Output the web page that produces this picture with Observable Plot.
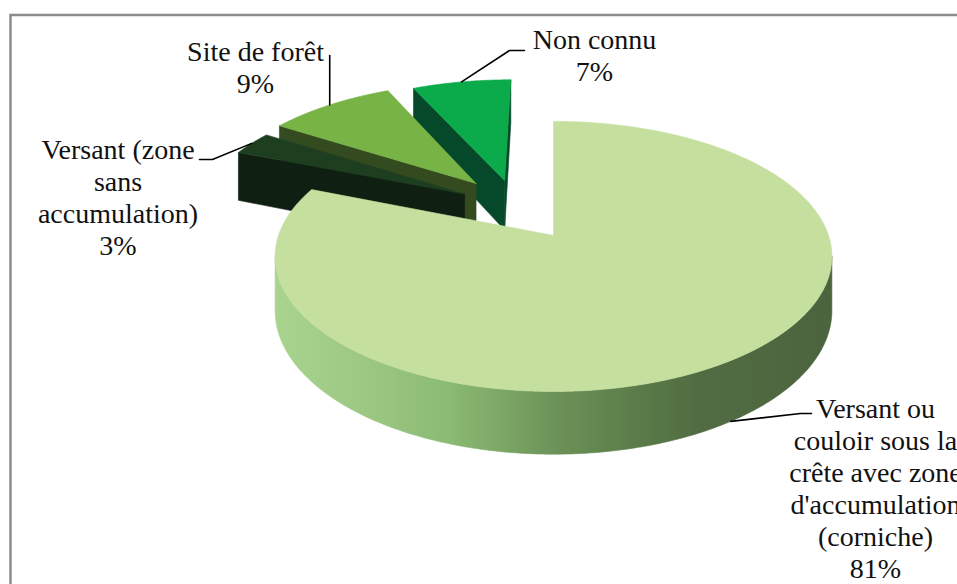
<!DOCTYPE html>
<html><head><meta charset="utf-8">
<script src="https://cdn.jsdelivr.net/npm/d3@7"></script>
<script src="https://cdn.jsdelivr.net/npm/@observablehq/plot@0.6"></script>
<style>
html,body{margin:0;padding:0;background:#fff;overflow:hidden}
#chart svg text, #chart svg tspan{font-family:"Liberation Serif","Times New Roman",serif !important;}
</style>
</head><body><div id="chart"></div>
<script>
// ---- data ----
const categories = [
  "Versant ou couloir sous la crête avec zone d'accumulation (corniche)",
  "Versant (zone sans accumulation)",
  "Site de forêt",
  "Non connu"
];
const values = [81, 3, 9, 7];
const labelLines = [
  ["Versant ou", "couloir sous la", "crête avec zone", "d'accumulation", "(corniche)"],
  ["Versant (zone", "sans", "accumulation)"],
  ["Site de forêt"],
  ["Non connu"]
];

// ---- style / layout ----
const W = 957, H = 584;
const topColors  = ["#C5DF9F", "#1E3F1F", "#77B445", "#0BAA4B"];
const sideColors = ["url(#mainSide)", "#0F2013", "#344A1F", "#06492A"];
const explode = [[0, 0], [-0.34, -0.33], [-0.30, -0.42], [-0.19, -0.446]]; // in radius units (right, front)
const P = {cx: 553, cy: 235, rx: 275, ry: 131.8, k: 0.155, depth: 53};
const leaderLayout = [
  {z: 1, via: [[800, 413], [811, 413]], label: [875, 577]},
  {z: 0, via: [[212, 159], [199, 159]], label: [117.5, 254.5]},
  {z: 0, via: "up55", label: [255, 92]},
  {z: 0, via: [[509, 50], [524, 50]], label: [594, 80]}
];
const FONT = "Liberation Serif";
const FS = 28, LH = 32;

// ---- geometry (3D-like pie, perspective ellipse) ----
function proj(u, v, z) {
  const s = 1 / (1 - P.k * v);
  return [P.cx + P.rx * u * s, P.cy + (P.ry * v + P.depth * z) * s];
}
const total = d3.sum(values);
let acc = 0;
const slices = values.map((val, i) => {
  const a0 = acc / total * 2 * Math.PI; acc += val;
  const a1 = acc / total * 2 * Math.PI;
  return {i, a0, a1, ou: explode[i][0], ov: explode[i][1]};
});
const rim = (sl, a, z) => proj(sl.ou + Math.sin(a), sl.ov - Math.cos(a), z);
const apex = (sl, z) => proj(sl.ou, sl.ov, z);
function area(pts) {
  let s = 0;
  for (let i = 0; i < pts.length; i++) {
    const [x1, y1] = pts[i], [x2, y2] = pts[(i + 1) % pts.length];
    s += x1 * y2 - x2 * y1;
  }
  return s / 2;
}

const faces = [];
const order = [...slices].sort((a, b) => a.ov - b.ov);
for (const sl of order) {
  const n = Math.max(2, Math.ceil((sl.a1 - sl.a0) / (Math.PI / 360)));
  const angles = d3.range(n + 1).map(j => sl.a0 + (sl.a1 - sl.a0) * j / n);
  const flat = sideColors[sl.i] === "url(#mainSide)" ? "#4F6A3F" : sideColors[sl.i];
  // radial faces
  const sf = [apex(sl, 0), rim(sl, sl.a0, 0), rim(sl, sl.a0, 1), apex(sl, 1)];
  if (area(sf) < -1) faces.push({pts: sf, fill: flat});
  const ef = [apex(sl, 0), rim(sl, sl.a1, 0), rim(sl, sl.a1, 1), apex(sl, 1)];
  if (area(ef) > 1) faces.push({pts: ef, fill: flat});
  // curved outer side: visible runs
  let run = [];
  const flush = () => {
    if (run.length > 1) {
      const top = run.map(a => rim(sl, a, 0));
      const bot = run.slice().reverse().map(a => rim(sl, a, 1));
      faces.push({pts: top.concat(bot), fill: sideColors[sl.i]});
    }
    run = [];
  };
  for (let j = 0; j < n; j++) {
    const q = [rim(sl, angles[j], 0), rim(sl, angles[j + 1], 0), rim(sl, angles[j + 1], 1), rim(sl, angles[j], 1)];
    if (area(q) < 0) { if (!run.length) run.push(angles[j]); run.push(angles[j + 1]); }
    else flush();
  }
  flush();
  // top face
  faces.push({pts: [apex(sl, 0), ...angles.map(a => rim(sl, a, 0))], fill: topColors[sl.i]});
}

const faceMarks = faces.map(f => {
  const pts = f.pts.concat([f.pts[0]]).map(([x, y]) => ({x, y}));
  return Plot.line(pts, {x: "x", y: "y", fill: f.fill, stroke: f.fill, strokeWidth: 0.6, curve: "linear"});
});

// leaders and labels
const leaderMarks = [];
const labelRows = [];
slices.forEach(sl => {
  const L = leaderLayout[sl.i];
  const mid = (sl.a0 + sl.a1) / 2;
  const a = rim(sl, mid, L.z);
  const via = L.via === "up55" ? [[a[0], 55]] : L.via;
  const pts = [a, ...via].map(([x, y]) => ({x, y}));
  leaderMarks.push(Plot.line(pts, {x: "x", y: "y", stroke: "#000", strokeWidth: 1.6}));
  labelRows.push({x: L.label[0], y: L.label[1], text: [...labelLines[sl.i], `${values[sl.i]}%`].join("\n")});
});

const plot = Plot.plot({
  width: W, height: H,
  margin: 0,
  x: {domain: [0, W], range: [0, W], axis: null},
  y: {domain: [0, H], range: [0, H], axis: null},
  style: {background: "#fff", overflow: "hidden", fontFamily: FONT},
  marks: [
    Plot.frame({stroke: "#8C8C8C", strokeWidth: 2.5, insetLeft: 10, insetTop: 14.5, insetRight: -30, insetBottom: -30}),
    ...faceMarks,
    ...leaderMarks,
    Plot.text(labelRows, {x: "x", y: "y", text: "text", textAnchor: "middle", lineAnchor: "bottom",
      lineHeight: LH / FS, fontSize: FS, fontFamily: FONT, fill: "#111"})
  ]
});

// gradient for the main slice's side
const defs = d3.select(plot).insert("defs", ":first-child");
const g = defs.append("linearGradient").attr("id", "mainSide").attr("x1", 0).attr("x2", 1).attr("y1", 0).attr("y2", 0);
[[0, "#A9D48E"], [0.12, "#A0CB86"], [0.31, "#8BBB74"], [0.51, "#6B9157"], [0.65, "#5B7C4A"], [0.76, "#516C42"], [1, "#4C643E"]]
  .forEach(([o, c]) => g.append("stop").attr("offset", o).attr("stop-color", c));

document.getElementById("chart").appendChild(plot);
</script>
</body></html>
